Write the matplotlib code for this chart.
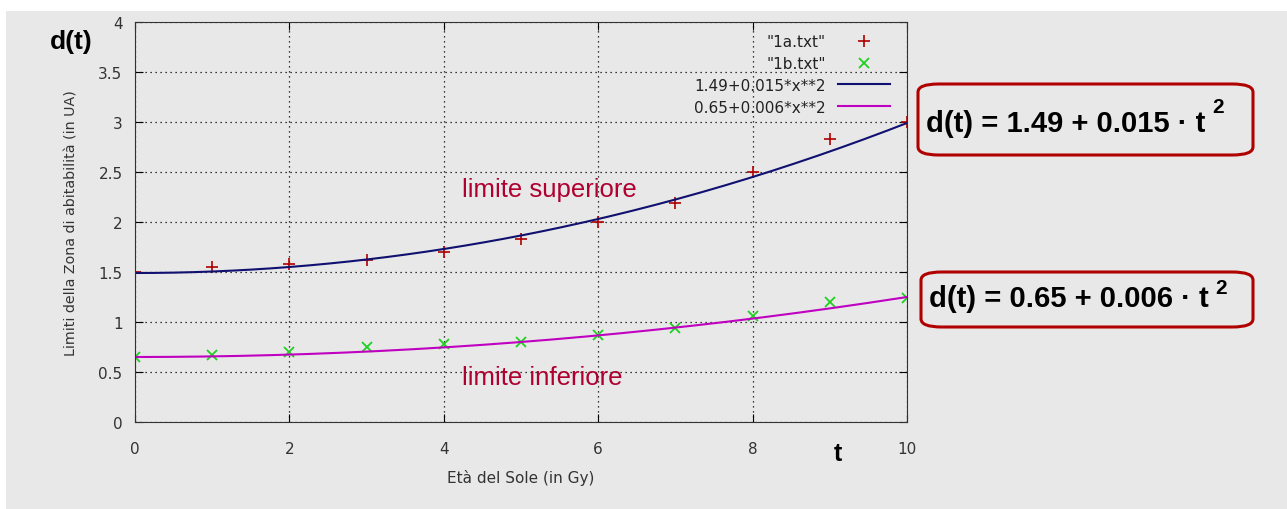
import numpy as np
import matplotlib.pyplot as plt
from matplotlib.patches import Rectangle, FancyBboxPatch

# data
eta = [0, 1, 2, 3, 4, 5, 6, 7, 8, 9, 10]
lim_sup = [1.50, 1.55, 1.58, 1.62, 1.70, 1.83, 2.00, 2.19, 2.50, 2.83, 3.00]
lim_inf = [0.65, 0.67, 0.70, 0.75, 0.78, 0.80, 0.87, 0.94, 1.06, 1.20, 1.24]

# fitted curves a + b*t^2
fit_sup = (1.49, 0.015)
fit_inf = (0.65, 0.006)

plt.rcParams['font.family'] = ['DejaVu Sans']

fig = plt.figure(figsize=(12.87, 5.10), dpi=100, facecolor='w')
fig.patches.append(Rectangle((6/1287, 0), 1, 1 - 12/510, transform=fig.transFigure,
                             facecolor='#e8e8e8', edgecolor='none', zorder=-10))

ax = fig.add_axes([135/1287, 1 - 423/510, 772/1287, 400/510])
ax.set_facecolor('#e8e8e8')

t = np.linspace(0, 10, 200)
ax.plot(eta, lim_sup, '+', color='#b00000', ms=8, mew=1.2, label='"1a.txt"')
ax.plot(eta, lim_inf, 'x', color='#20d020', ms=7, mew=1.3, label='"1b.txt"')
ax.plot(t, fit_sup[0] + fit_sup[1] * t**2, color='#101070', lw=1.5, label='1.49+0.015*x**2')
ax.plot(t, fit_inf[0] + fit_inf[1] * t**2, color='#c000c0', lw=1.5, label='0.65+0.006*x**2')

ax.set_xlim(0, 10)
ax.set_ylim(0, 4)
ax.set_xticks([0, 2, 4, 6, 8, 10])
ax.set_yticks([0, 0.5, 1, 1.5, 2, 2.5, 3, 3.5, 4])
ax.set_yticklabels(['0', '0.5', '1', '1.5', '2', '2.5', '3', '3.5', '4'])
ax.tick_params(axis='both', direction='in', top=True, right=True, length=6,
               labelsize=11, labelcolor='#333333')
ax.tick_params(axis='x', pad=14)
ax.tick_params(axis='y', pad=9)
ax.grid(True, color='black', linestyle=(0, (1, 3)), lw=0.9)
for s in ax.spines.values():
    s.set_color('#333333')

ax.set_xlabel('Età del Sole (in Gy)', fontsize=11, color='#333333', labelpad=9)
ax.set_ylabel('Limiti della Zona di abitabilità (in UA)', fontsize=10.3, color='#333333',
              labelpad=14)

leg = ax.legend(loc='upper right', bbox_to_anchor=(890/1287, 1 - 35/510),
                bbox_transform=fig.transFigure, frameon=False, markerfirst=False,
                fontsize=11, handlelength=3.4, handletextpad=0.8, labelspacing=0.45,
                borderaxespad=0, borderpad=0)
for txt in leg.get_texts():
    txt.set_color('#222222')

fig.text(50/1287, 1 - 42/510, 'd(t)', fontsize=19, fontweight='bold', va='center',
         family='Liberation Sans')
fig.text(838/1287, 1 - 454/510, 't', fontsize=18, fontweight='bold', ha='center',
         va='center', family='Liberation Sans')

ax.text(4.24, 2.26, 'limite superiore', color='#b00030', fontsize=18.5,
        family='Liberation Sans', va='baseline')
ax.text(4.24, 0.38, 'limite inferiore', color='#b00030', fontsize=18.5,
        family='Liberation Sans', va='baseline')

boxes = [(918, 85, 156, 'd(t) = 1.49 + 0.015 · t', 132, 1212, 98),
         (921, 273, 328, 'd(t) = 0.65 + 0.006 · t', 307, 1215, 279)]
for (x0, y0, y1, txt, base, sx, sy) in boxes:
    box = FancyBboxPatch((x0/1287, 1 - y1/510), (1253 - x0)/1287, (y1 - y0)/510,
                         boxstyle='round,pad=0,rounding_size=0.016',
                         transform=fig.transFigure, facecolor='none',
                         edgecolor='#b00000', lw=2.2)
    fig.patches.append(box)
    fig.text((x0 + 8)/1287, 1 - base/510, txt, fontsize=21, fontweight='bold',
             va='baseline', family='Liberation Sans')
    fig.text(sx/1287, 1 - sy/510, '2', fontsize=15, fontweight='bold',
             va='top', family='Liberation Sans')

fig.savefig('out.png', dpi=100, facecolor='w')
